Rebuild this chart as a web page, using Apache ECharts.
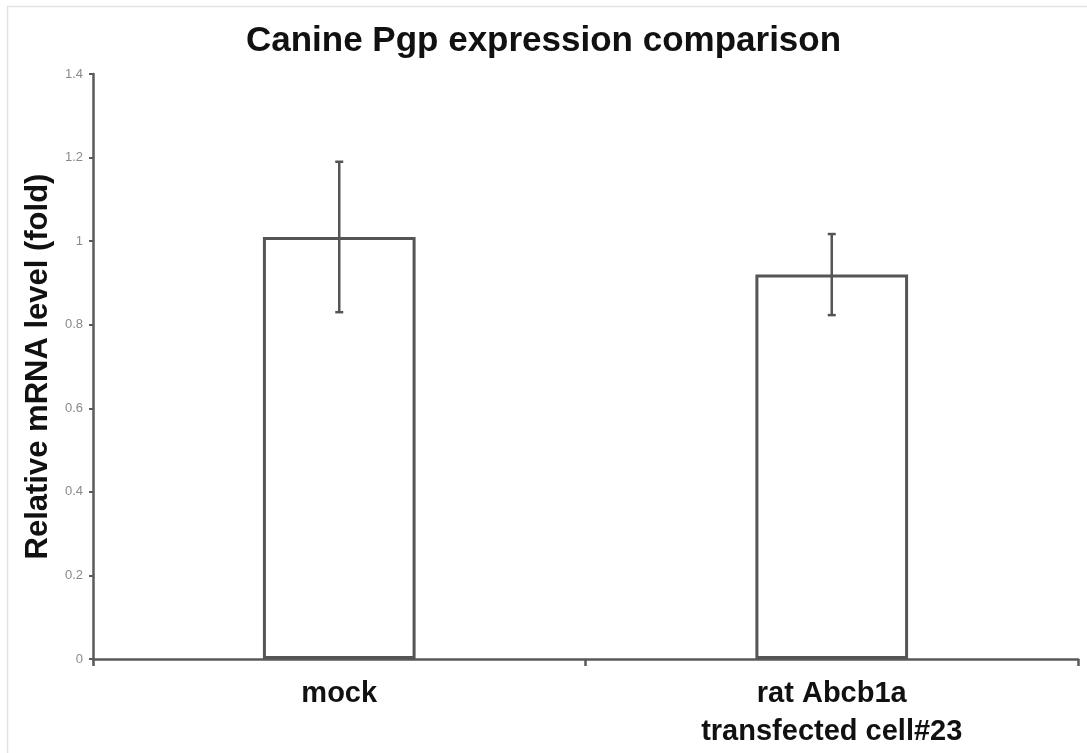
<!DOCTYPE html>
<html>
<head>
<meta charset="utf-8">
<script src="https://cdn.jsdelivr.net/npm/echarts@6/dist/echarts.min.js"></script>
<style>
html,body{margin:0;padding:0;background:#fff;}
#chart{width:1087px;height:753px;}
</style>
</head>
<body>
<div id="chart"></div>
<script>
var categories = ['mock', 'rat Abcb1a\ntransfected cell#23'];
var values = [1.01, 0.92];
var errors = [0.18, 0.097];
var yTicks = { min: 0, max: 1.4, interval: 0.2 };

var chart = echarts.init(document.getElementById('chart'));
var axisColor = '#5a5a5a';
var font = 'Liberation Sans, Arial, sans-serif';

chart.setOption({
  animation: false,
  backgroundColor: '#fff',
  title: {
    text: 'Canine Pgp expression comparison',
    left: 'center',
    top: 19,
    textStyle: { fontFamily: font, fontSize: 35, fontWeight: 'bold', color: '#111' }
  },
  graphic: [
    { type: 'line', shape: { x1: 7, y1: 6.5, x2: 1087, y2: 6.5 }, style: { stroke: '#e2e2e2', lineWidth: 1.5 } },
    { type: 'line', shape: { x1: 7.5, y1: 6, x2: 7.5, y2: 753 }, style: { stroke: '#e2e2e2', lineWidth: 1.5 } }
  ],
  grid: { left: 93, right: 9, top: 74, bottom: 94, containLabel: false },
  xAxis: {
    type: 'category',
    data: categories,
    axisLine: { lineStyle: { color: axisColor, width: 2.5 } },
    axisTick: { show: true, length: 7, lineStyle: { color: axisColor, width: 2.5 } },
    axisLabel: {
      margin: 16,
      fontFamily: font, fontSize: 29, fontWeight: 'bold', color: '#111',
      lineHeight: 38, interval: 0
    }
  },
  yAxis: {
    type: 'value',
    min: yTicks.min, max: yTicks.max, interval: yTicks.interval,
    name: 'Relative mRNA level (fold)',
    nameLocation: 'middle',
    nameGap: 32,
    nameTextStyle: { fontFamily: font, fontSize: 31, fontWeight: 'bold', color: '#111' },
    axisLine: { show: true, lineStyle: { color: axisColor, width: 2.5 } },
    axisTick: { show: true, length: 4, lineStyle: { color: axisColor, width: 2 } },
    axisLabel: { margin: 10, fontFamily: font, fontSize: 13, color: '#8a8a8a' },
    splitLine: { show: false }
  },
  series: [
    {
      type: 'bar',
      data: values,
      barWidth: '31%',
      itemStyle: { color: '#fff', borderColor: '#555', borderWidth: 3 }
    },
    {
      type: 'custom',
      data: values.map(function (v, i) { return [i, v - errors[i], v + errors[i]]; }),
      renderItem: function (params, api) {
        var x = api.value(0);
        var lo = api.coord([x, api.value(1)]);
        var hi = api.coord([x, api.value(2)]);
        var cw = 4;
        var st = { stroke: '#555', lineWidth: 2.5 };
        return {
          type: 'group',
          children: [
            { type: 'line', shape: { x1: hi[0], y1: hi[1], x2: lo[0], y2: lo[1] }, style: st },
            { type: 'line', shape: { x1: hi[0] - cw, y1: hi[1], x2: hi[0] + cw, y2: hi[1] }, style: st },
            { type: 'line', shape: { x1: lo[0] - cw, y1: lo[1], x2: lo[0] + cw, y2: lo[1] }, style: st }
          ]
        };
      },
      z: 5
    }
  ]
});
</script>
</body>
</html>
